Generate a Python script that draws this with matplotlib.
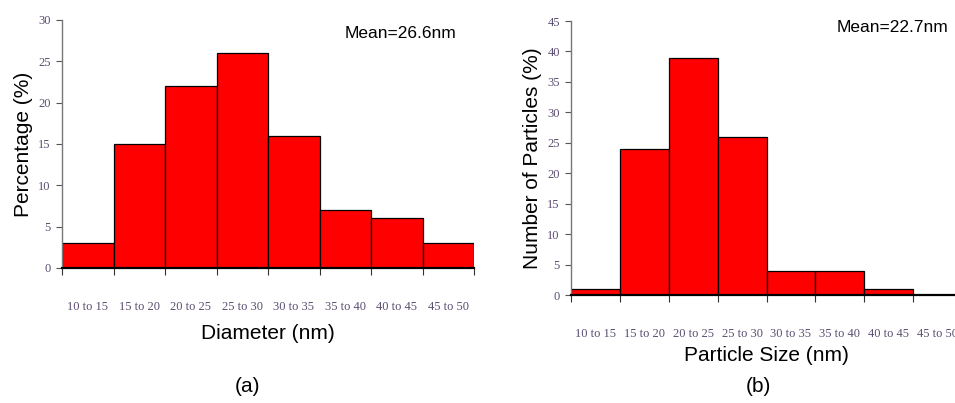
import matplotlib
matplotlib.use("Agg")
import matplotlib.pyplot as plt
import numpy as np

bins = ["10 to 15", "15 to 20", "20 to 25", "25 to 30", "30 to 35", "35 to 40", "40 to 45", "45 to 50"]
pct_a = [3, 15, 22, 26, 16, 7, 6, 3]
pct_b = [1, 24, 39, 26, 4, 4, 1, 0]
yticks_a = [0, 5, 10, 15, 20, 25, 30]
yticks_b = [0, 5, 10, 15, 20, 25, 30, 35, 40, 45]

fig = plt.figure(figsize=(9.55, 4.03), dpi=100)
plt.rcParams['font.family'] = ['Liberation Sans', 'DejaVu Sans']

tick_color = '#5b4d70'

def panel(rect, vals, yticks, ylabel, xlabel, mean_txt, mean_xy, xlabel_pad, tag_y, tag, tick_pad):
    ax = fig.add_axes(rect)
    x = np.arange(len(vals))
    ax.bar(x, vals, width=1.0, align='edge', color='#ff0000', edgecolor='black', linewidth=0.9, zorder=2)
    ax.set_xlim(0, len(vals))
    ax.set_ylim(yticks[0], yticks[-1])
    for s in ['top', 'right']:
        ax.spines[s].set_visible(False)
    ax.spines['left'].set_color('#777777')
    ax.spines['left'].set_linewidth(1.0)
    ax.spines['bottom'].set_color('black')
    ax.spines['bottom'].set_linewidth(1.6)
    ax.spines['bottom'].set_zorder(3)
    ax.set_yticks(yticks)
    ax.set_yticklabels([str(t) for t in yticks], family='Liberation Serif', fontsize=9, color=tick_color)
    ax.tick_params(axis='y', length=4, width=0.8, color='#555555', pad=4)
    ax.set_xticks(x + 0.5)
    ax.set_xticklabels(bins, family='Liberation Serif', fontsize=9, color=tick_color)
    ax.set_xticks(np.arange(len(vals) + 1), minor=True)
    ax.tick_params(axis='x', which='major', length=0, pad=tick_pad)
    ax.tick_params(axis='x', which='minor', length=5, width=0.8, color='#333333', direction='out')
    ax.set_ylabel(ylabel, fontsize=15, labelpad=4)
    ax.set_xlabel(xlabel, fontsize=15, labelpad=xlabel_pad)
    fig.text(mean_xy[0], mean_xy[1], mean_txt, fontsize=12.5, ha='left', va='center')
    return ax

axa = panel([62/955, 1-268/403, 412/955, 248/403], pct_a, yticks_a, 'Percentage (%)', 'Diameter (nm)',
            'Mean=26.6nm', (345/955, 1-33/403), 8, 387, '(a)', 24)
axb = panel([571/955, 1-295/403, 391/955, 274/403], pct_b, yticks_b, 'Number of Particles (%)', 'Particle Size (nm)',
            'Mean=22.7nm', (837/955, 1-27/403), 4, 387, '(b)', 24)

fig.text(247/955, 1-387/403, '(a)', fontsize=15, ha='center', va='center')
fig.text(758/955, 1-387/403, '(b)', fontsize=15, ha='center', va='center')

fig.savefig('out.png', dpi=100)
